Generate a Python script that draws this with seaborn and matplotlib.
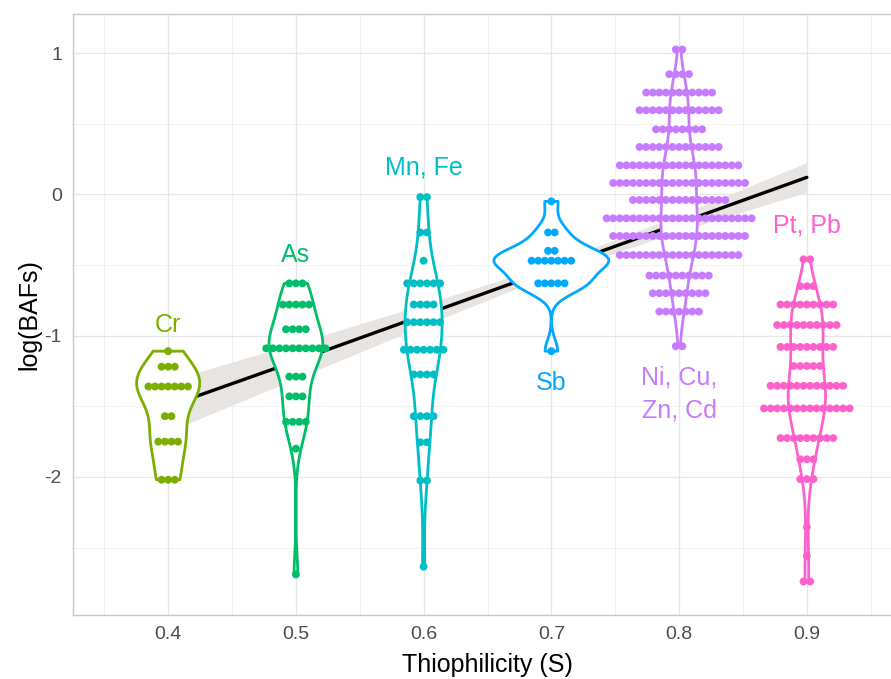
import numpy as np
import pandas as pd
import matplotlib
matplotlib.use("Agg")
import matplotlib.pyplot as plt
import seaborn as sns

# groups on the thiophilicity scale
groups = ["Cr", "As", "Mn, Fe", "Sb", "Ni, Cu,\nZn, Cd", "Pt, Pb"]
thiophilicity = [0.4, 0.5, 0.6, 0.7, 0.8, 0.9]
colors = ["#7CAE00", "#00BE67", "#00BFC4", "#00A9FF", "#C77CFF", "#FF61CC"]

# log(BAF) values (dot rows) and number of dots in each row
cr_vals = [-1.11, -1.22, -1.36, -1.57, -1.75, -2.02]
cr_n = [1, 3, 7, 2, 4, 3]
as_vals = [-0.63, -0.78, -0.955, -1.09, -1.29, -1.43, -1.61, -1.80, -2.69]
as_n = [3, 5, 4, 10, 3, 3, 4, 1, 1]
mnfe_vals = [-0.02, -0.27, -0.47, -0.63, -0.78, -0.905, -1.10, -1.275, -1.57, -1.755, -2.025, -2.635]
mnfe_n = [2, 2, 1, 6, 4, 6, 7, 4, 4, 2, 2, 1]
sb_vals = [-0.05, -0.27, -0.40, -0.47, -0.63, -1.11]
sb_n = [1, 2, 2, 7, 5, 1]
ni_vals = [1.025, 0.85, 0.72, 0.595, 0.46, 0.335, 0.205, 0.08, -0.04, -0.17,
           -0.295, -0.43, -0.575, -0.70, -0.83, -1.075]
ni_n = [2, 4, 11, 13, 8, 13, 19, 21, 15, 23, 21, 19, 10, 9, 7, 2]
pt_vals = [-0.46, -0.65, -0.78, -0.925, -1.08, -1.215, -1.355, -1.515, -1.725,
           -1.875, -2.015, -2.355, -2.56, -2.74]
pt_n = [2, 3, 9, 10, 9, 5, 12, 14, 9, 3, 3, 1, 1, 2]

# linear trend and its confidence band
trend_x = [0.4, 0.5, 0.6, 0.7, 0.8, 0.9]
trend_fit = [-1.50, -1.18, -0.855, -0.53, -0.205, 0.12]
trend_lo = [-1.68, -1.305, -0.93, -0.567, -0.262, 0.015]
trend_hi = [-1.32, -1.055, -0.78, -0.493, -0.148, 0.225]

all_vals = [cr_vals, as_vals, mnfe_vals, sb_vals, ni_vals, pt_vals]
all_n = [cr_n, as_n, mnfe_n, sb_n, ni_n, pt_n]

dot_step = 0.00516  # horizontal spacing of stacked dots (x units)

rows = []
for g, s, vals, ns in zip(groups, thiophilicity, all_vals, all_n):
    for v, k in zip(vals, ns):
        for i in range(k):
            rows.append((g, s, v, s + (i - (k - 1) / 2) * dot_step))
df = pd.DataFrame(rows, columns=["group", "S", "logBAF", "xdot"])

pal = dict(zip(groups, colors))


def nrd0(kde):
    # R's default bandwidth (bw.nrd0), as a factor for scipy's gaussian_kde
    x = kde.dataset[0]
    sd = x.std(ddof=1)
    q75, q25 = np.percentile(x, [75, 25])
    lo = min(sd, (q75 - q25) / 1.34) if q75 > q25 else sd
    return 0.9 * lo * len(x) ** -0.2 / sd


sns.set_style("white")
plt.rcParams["font.family"] = ["Liberation Sans", "DejaVu Sans"]

fig = plt.figure(figsize=(8.91, 6.79), dpi=100)
ax = fig.add_axes([73 / 891, 64 / 679, 829 / 891, 601 / 679])

ax.fill_between(trend_x, trend_lo, trend_hi, color="#E7E4E1", lw=0, zorder=0.8)
sns.lineplot(x=trend_x, y=trend_fit, color="black", lw=2.4, ax=ax, zorder=0.9)

common = dict(data=df, x="S", y="logBAF", hue="group", hue_order=groups,
              native_scale=True, dodge=False, cut=0, inner=None,
              density_norm="area", common_norm=True, width=0.9,
              bw_method=nrd0, legend=False, ax=ax)
sns.violinplot(palette={g: "white" for g in groups}, linewidth=0, zorder=1, **common)
sns.violinplot(palette=pal, fill=False, linewidth=2.0, zorder=1.1, **common)

sns.scatterplot(data=df, x="xdot", y="logBAF", hue="group", palette=pal,
                s=32, linewidth=0, legend=False, ax=ax, zorder=3)

# group labels
label_y = [-0.925, -0.43, 0.19, -1.335, -1.415, -0.22]
for g, s, ly, c in zip(groups, thiophilicity, label_y, colors):
    ax.text(s, ly, g, color=c, fontsize=18, ha="center", va="center",
            linespacing=1.45, zorder=4)

ax.set_xlim(0.3255, 0.9745)
ax.set_ylim(-2.977, 1.276)
ax.set_xticks(thiophilicity)
ax.set_xticklabels([f"{v:.1f}" for v in thiophilicity])
ax.set_xticks([0.35, 0.45, 0.55, 0.65, 0.75, 0.85, 0.95], minor=True)
ax.set_yticks([-2, -1, 0, 1])
ax.set_yticklabels(["-2", "-1", "0", "1"])
ax.set_yticks([-2.5, -1.5, -0.5, 0.5], minor=True)

ax.grid(which="major", color="#E6E6E6", lw=0.9)
ax.grid(which="minor", color="#F0F0F0", lw=0.6)
ax.set_axisbelow(True)
for side in ["left", "top", "bottom"]:
    ax.spines[side].set_color("#C8C8C8")
    ax.spines[side].set_linewidth(1.0)
ax.spines["right"].set_visible(False)
ax.tick_params(which="major", length=4, width=0.9, color="#C8C8C8",
               labelsize=14, labelcolor="#4D4D4D", pad=4)
ax.tick_params(which="minor", length=0)

ax.set_xlabel("Thiophilicity (S)", fontsize=18, color="black", labelpad=7)
ax.set_ylabel("log(BAFs)", fontsize=18, color="black", labelpad=2)

fig.savefig("out.png", dpi=100)
